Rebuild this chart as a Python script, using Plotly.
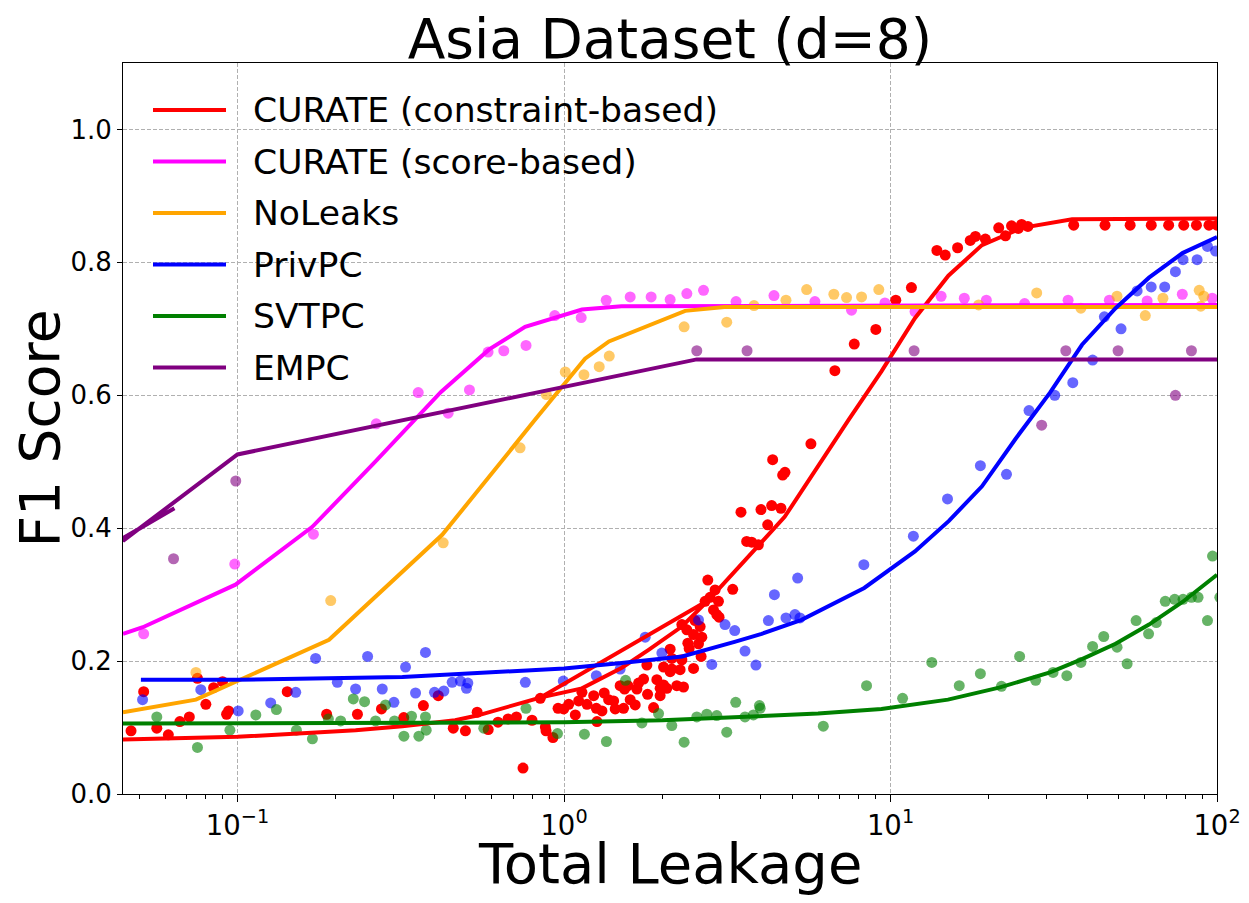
import math
import plotly.graph_objects as go

# ---------------- data ----------------
# CURATE (constraint-based) scatter
RED_X = [0.0472, 0.0516, 0.0566, 0.0614, 0.0666, 0.0712, 0.0754, 0.0800, 0.0845, 0.0900,
         0.0939, 0.0926, 0.142, 0.1875, 0.233, 0.276, 0.323, 0.371, 0.412, 0.458,
         0.499, 0.542, 0.586, 0.628, 0.674, 0.715, 0.749, 0.798, 0.846, 0.877,
         0.881, 0.925, 0.959, 0.998, 1.034, 1.083, 1.109, 1.135, 1.176, 1.233,
         1.262, 1.256, 1.307, 1.328, 1.370, 1.419, 1.435, 1.486, 1.533, 1.569,
         1.595, 1.652, 1.522, 1.672, 1.692, 1.753, 1.794, 1.803, 1.881, 1.925,
         1.970, 1.970, 2.018, 2.018, 2.065, 2.114, 2.114, 2.139, 2.139, 2.216,
         2.268, 2.296, 2.296, 2.323, 2.378, 2.395, 2.417, 2.493, 2.493, 2.521,
         2.582, 2.612, 2.630, 2.643, 2.705, 2.757, 2.802, 2.870, 2.902, 2.937,
         2.972, 2.985, 3.287, 3.484, 3.627, 3.757, 3.939, 4.012, 4.206, 4.326,
         4.618, 4.356, 4.674, 4.751, 5.705, 6.755, 7.745, 9.017, 10.38, 11.59,
         13.87, 14.71, 16.05, 17.55, 18.20, 19.52, 21.45, 22.50, 23.48, 24.63,
         25.21, 26.35, 36.4, 45.4, 54.2, 62.9, 71.1, 79.1, 86.5, 94.5, 100.0]
RED_Y = [0.095, 0.154, 0.099, 0.089, 0.109, 0.116, 0.174, 0.135, 0.160, 0.169,
         0.125, 0.120, 0.154, 0.120, 0.120, 0.128, 0.115, 0.133, 0.148, 0.099,
         0.095, 0.123, 0.097, 0.108, 0.113, 0.116, 0.039, 0.111, 0.144, 0.101,
         0.095, 0.085, 0.129, 0.128, 0.135, 0.119, 0.140, 0.153, 0.135, 0.148,
         0.109, 0.129, 0.125, 0.152, 0.142, 0.140, 0.128, 0.163, 0.158, 0.163,
         0.142, 0.134, 0.129, 0.158, 0.167, 0.173, 0.194, 0.150, 0.130, 0.172,
         0.159, 0.148, 0.191, 0.164, 0.159, 0.218, 0.184, 0.204, 0.188, 0.163,
         0.187, 0.255, 0.202, 0.161, 0.247, 0.227, 0.219, 0.240, 0.189, 0.261,
         0.226, 0.252, 0.207, 0.236, 0.290, 0.322, 0.296, 0.277, 0.307, 0.270,
         0.290, 0.266, 0.308, 0.424, 0.380, 0.379, 0.375, 0.428, 0.405, 0.434,
         0.430, 0.503, 0.480, 0.484, 0.527, 0.637, 0.677, 0.699, 0.743, 0.762,
         0.818, 0.811, 0.822, 0.833, 0.839, 0.835, 0.852, 0.840, 0.855, 0.851,
         0.857, 0.854, 0.856, 0.856, 0.856, 0.856, 0.856, 0.856, 0.856, 0.856, 0.856]

# CURATE (score-based) scatter
MAG_X = [0.0516, 0.0981, 0.1708, 0.266, 0.3577, 0.4417, 0.5134, 0.5855, 0.654, 0.765,
         0.937, 1.129, 1.347, 1.595, 1.849, 2.114, 2.378, 2.675, 3.365, 4.397,
         5.868, 7.598, 9.614, 11.89, 14.29, 16.83, 19.66, 25.75, 34.99, 46.8,
         61.1, 78.3, 96.7]
MAG_Y = [0.241, 0.346, 0.391, 0.557, 0.604, 0.573, 0.608, 0.665, 0.667, 0.675,
         0.720, 0.717, 0.743, 0.748, 0.748, 0.744, 0.753, 0.758, 0.741, 0.750,
         0.741, 0.728, 0.739, 0.726, 0.749, 0.746, 0.743, 0.738, 0.743, 0.743,
         0.742, 0.752, 0.746]

# NoLeaks scatter
ORA_X = [0.0746, 0.193, 0.4266, 0.7336, 0.883, 1.009, 1.151, 1.282, 1.376, 2.333,
         3.151, 3.819, 4.785, 5.536, 6.707, 7.335, 8.154, 9.209, 18.62, 28.04,
         38.3, 49.4, 60.3, 68.3, 88.2, 91.1, 89.2]
ORA_Y = [0.183, 0.291, 0.378, 0.521, 0.601, 0.635, 0.631, 0.643, 0.659, 0.703,
         0.710, 0.735, 0.743, 0.759, 0.752, 0.747, 0.748, 0.759, 0.736, 0.754,
         0.731, 0.749, 0.720, 0.746, 0.758, 0.749, 0.734]

# PrivPC scatter
BLU_X = [0.0512, 0.0772, 0.1005, 0.1264, 0.1508, 0.1735, 0.2022, 0.2300, 0.2503, 0.2776,
         0.3014, 0.3271, 0.351, 0.3765, 0.4012, 0.4286, 0.4544, 0.4818, 0.5026, 0.5076,
         0.7614, 0.995, 1.256, 1.486, 1.773, 1.994, 2.582, 2.836, 3.113, 3.334,
         3.584, 3.871, 4.227, 4.410, 4.785, 5.098, 5.196, 5.281, 8.286, 11.75,
         14.95, 18.85, 22.66, 26.56, 31.85, 36.17, 41.59, 45.19, 50.83, 56.93,
         62.87, 69.16, 74.58, 78.7, 86.9, 93.5, 99.0]
BLU_Y = [0.142, 0.157, 0.125, 0.137, 0.153, 0.204, 0.168, 0.158, 0.207, 0.158,
         0.138, 0.191, 0.152, 0.213, 0.153, 0.155, 0.168, 0.170, 0.159, 0.167,
         0.168, 0.170, 0.178, 0.188, 0.236, 0.212, 0.262, 0.195, 0.255, 0.246,
         0.215, 0.194, 0.261, 0.300, 0.265, 0.270, 0.325, 0.265, 0.345, 0.388,
         0.444, 0.494, 0.481, 0.577, 0.600, 0.619, 0.653, 0.718, 0.700, 0.757,
         0.763, 0.763, 0.786, 0.804, 0.804, 0.824, 0.817]

# SVTPC scatter
GRN_X = [0.0566, 0.0754, 0.0948, 0.1138, 0.1316, 0.1515, 0.1696, 0.1898, 0.207, 0.2263,
         0.245, 0.2648, 0.284, 0.3027, 0.3234, 0.3412, 0.3594, 0.3765, 0.3784, 0.568,
         0.765, 0.955, 1.155, 1.349, 1.544, 1.732, 1.948, 2.139, 2.333, 2.551,
         2.737, 2.937, 3.151, 3.357, 3.584, 3.803, 3.968, 3.99, 6.226, 8.446,
         10.89, 13.38, 16.24, 18.85, 21.87, 24.86, 27.84, 31.47, 34.68, 38.3,
         41.59, 44.98, 49.42, 53.06, 56.53, 61.72, 65.17, 69.43, 74.2, 78.7,
         83.5, 87.5, 93.5, 96.9, 102.0]
GRN_Y = [0.116, 0.070, 0.096, 0.119, 0.127, 0.096, 0.083, 0.113, 0.110, 0.143,
         0.139, 0.110, 0.134, 0.110, 0.087, 0.117, 0.087, 0.116, 0.096, 0.099,
         0.129, 0.091, 0.090, 0.079, 0.171, 0.107, 0.121, 0.103, 0.078, 0.116,
         0.120, 0.118, 0.093, 0.138, 0.116, 0.119, 0.133, 0.129, 0.102, 0.163,
         0.144, 0.198, 0.163, 0.181, 0.162, 0.207, 0.171, 0.183, 0.178, 0.198,
         0.222, 0.237, 0.221, 0.196, 0.261, 0.241, 0.258, 0.290, 0.293, 0.293,
         0.296, 0.296, 0.261, 0.358, 0.296]

# EMPC scatter
PUR_X = [0.0637, 0.0988, 2.551, 3.636, 11.81, 29.04, 34.43, 49.77, 74.58, 83.5]
PUR_Y = [0.354, 0.471, 0.667, 0.667, 0.667, 0.555, 0.667, 0.667, 0.600, 0.667]

# fitted curves (as drawn in the reference)
RED_LINE_X = [0.0446, 0.1, 0.23, 0.32, 0.464, 0.542, 0.845, 2.776, 0.845, 1.135,
              1.504, 1.816, 2.296, 2.776, 3.757, 4.74, 7.44, 9.38, 11.88, 15.04,
              19.06, 25.3, 36.0, 100.0]
RED_LINE_Y = [0.082, 0.086, 0.096, 0.102, 0.111, 0.118, 0.145, 0.292, 0.145, 0.159,
              0.190, 0.217, 0.252, 0.292, 0.363, 0.417, 0.563, 0.636, 0.716, 0.780,
              0.826, 0.852, 0.865, 0.866]
MAG_LINE_X = [0.0446, 0.0513, 0.0986, 0.1695, 0.2643, 0.42, 0.59, 0.76, 1.135, 1.5, 100.0]
MAG_LINE_Y = [0.241, 0.251, 0.315, 0.402, 0.500, 0.605, 0.669, 0.703, 0.729, 0.734, 0.736]
ORA_LINE_X = [0.0446, 0.0746, 0.1907, 0.4236, 0.815, 1.16, 1.373, 2.35, 3.1, 100.0]
ORA_LINE_Y = [0.123, 0.142, 0.232, 0.390, 0.563, 0.655, 0.681, 0.727, 0.733, 0.733]
BLU_LINE_X = [0.0506, 0.1, 0.32, 1.0, 1.5, 2.3, 3.33, 4.03, 5.34, 8.31, 11.88, 15.1,
              19.06, 24.2, 30.8, 38.6, 48.9, 61.9, 78.4, 100.0]
BLU_LINE_Y = [0.172, 0.172, 0.176, 0.189, 0.197, 0.207, 0.229, 0.241, 0.262, 0.310,
              0.365, 0.411, 0.463, 0.535, 0.604, 0.676, 0.731, 0.777, 0.814, 0.838]
GRN_LINE_X = [0.0446, 1.0, 2.0, 3.76, 6.0, 9.38, 15.0, 21.5, 30.8, 38.6, 48.9, 61.9, 78.4, 100.0]
GRN_LINE_Y = [0.106, 0.108, 0.111, 0.116, 0.121, 0.128, 0.142, 0.160, 0.183, 0.203,
              0.226, 0.255, 0.289, 0.330]
PUR_LINE_X = [0.0641, 0.0446, 0.0446, 0.1, 2.55, 100.0]
PUR_LINE_Y = [0.430, 0.385, 0.381, 0.511, 0.654, 0.654]

NAMES = ["CURATE (constraint-based)", "CURATE (score-based)", "NoLeaks",
         "PrivPC", "SVTPC", "EMPC"]
COLORS = ["#ff0000", "#ff00ff", "#ffa500", "#0000ff", "#008000", "#800080"]
OPAC = [1.0, 0.6, 0.6, 0.6, 0.6, 0.6]

X_TICKS = [0.1, 1, 10, 100]
X_TICKTEXT = ["10<sup>\u22121</sup>", "10<sup>0</sup>", "10<sup>1</sup>", "10<sup>2</sup>"]
Y_TICKS = [0.0, 0.2, 0.4, 0.6, 0.8, 1.0]

# ---------------- figure ----------------
FONT = "DejaVu Sans"
# page body has an 8px margin, so the figure is laid out 8px up/left
OFF = 8
FIG_W, FIG_H = 1249 - OFF, 903 - OFF
PLOT_L, PLOT_R, PLOT_T, PLOT_B = 123 - OFF, 1217 - OFF, 63 - OFF, 794 - OFF
W, H = PLOT_R - PLOT_L, PLOT_B - PLOT_T

fig = go.Figure()

scatters = [(RED_X, RED_Y), (MAG_X, MAG_Y), (ORA_X, ORA_Y),
            (BLU_X, BLU_Y), (GRN_X, GRN_Y), (PUR_X, PUR_Y)]
lines = [(RED_LINE_X, RED_LINE_Y), (MAG_LINE_X, MAG_LINE_Y), (ORA_LINE_X, ORA_LINE_Y),
         (BLU_LINE_X, BLU_LINE_Y), (GRN_LINE_X, GRN_LINE_Y), (PUR_LINE_X, PUR_LINE_Y)]

for (sx, sy), c, op, nm in zip(scatters, COLORS, OPAC, NAMES):
    fig.add_trace(go.Scatter(x=sx, y=sy, mode="markers", name=nm + " (runs)",
                             marker=dict(color=c, size=11, opacity=op, line=dict(width=0)),
                             showlegend=False))
for (lx, ly), c, nm in zip(lines, COLORS, NAMES):
    fig.add_trace(go.Scatter(x=lx, y=ly, mode="lines", name=nm,
                             line=dict(color=c, width=4), showlegend=False))

# legend drawn like the reference (long handles, no frame)
for i, (nm, c) in enumerate(zip(NAMES, COLORS)):
    ypx = 110 - OFF + i * 51.5
    yp = (PLOT_B - ypx) / H
    fig.add_shape(type="line", xref="paper", yref="paper",
                  x0=(153 - OFF - PLOT_L) / W, x1=(226 - OFF - PLOT_L) / W, y0=yp, y1=yp,
                  line=dict(color=c, width=4))
    fig.add_annotation(xref="paper", yref="paper", x=(251 - OFF - PLOT_L) / W, y=yp,
                       xanchor="left", yanchor="middle", text=nm, showarrow=False,
                       font=dict(family=FONT, size=34.6, color="black"))

# x-axis title placed like the reference
fig.add_annotation(xref="paper", yref="paper", x=0.5, y=(PLOT_B - (863 - OFF)) / H,
                   xanchor="center", yanchor="middle", text="Total Leakage",
                   showarrow=False, font=dict(family=FONT, size=56, color="black"))

minor_vals = [m * 10 ** e for e in range(-2, 2) for m in range(2, 10)]

fig.update_layout(
    width=FIG_W, height=FIG_H,
    paper_bgcolor="white", plot_bgcolor="white",
    margin=dict(l=PLOT_L, r=FIG_W - PLOT_R, t=PLOT_T, b=FIG_H - PLOT_B, autoexpand=False),
    title=dict(text="Asia Dataset (d=8)", x=0.5, xref="paper", y=1 - (39 - OFF) / FIG_H,
               yref="container", yanchor="middle", xanchor="center",
               font=dict(family=FONT, size=55, color="black")),
    font=dict(family=FONT, color="black"),
    showlegend=False,
)
fig.update_xaxes(
    type="log", range=[math.log10(0.0446), 2],
    tickvals=X_TICKS, ticktext=X_TICKTEXT,
    tickfont=dict(family=FONT, size=27.5, color="black"),
    ticks="outside", ticklen=7, tickwidth=1, tickcolor="black",
    showline=True, linecolor="black", linewidth=1, mirror=True,
    showgrid=True, gridcolor="#b0b0b0", gridwidth=1, griddash="4px,2px",
    zeroline=False,
    minor=dict(tickvals=minor_vals, ticks="outside", ticklen=4, tickwidth=1,
               tickcolor="black", showgrid=False),
    automargin=False,
)
fig.update_yaxes(
    range=[0, 1.1], tickvals=Y_TICKS, tickformat=".1f",
    tickfont=dict(family=FONT, size=26, color="black"),
    ticks="outside", ticklen=5, tickwidth=1, tickcolor="black",
    showline=True, linecolor="black", linewidth=1, mirror=True,
    showgrid=True, gridcolor="#b0b0b0", gridwidth=1, griddash="4px,2px",
    zeroline=False,
    title=dict(text="F1 Score", font=dict(family=FONT, size=55, color="black"),
               standoff=0),
    automargin=False,
)

fig.write_html("out.html")
